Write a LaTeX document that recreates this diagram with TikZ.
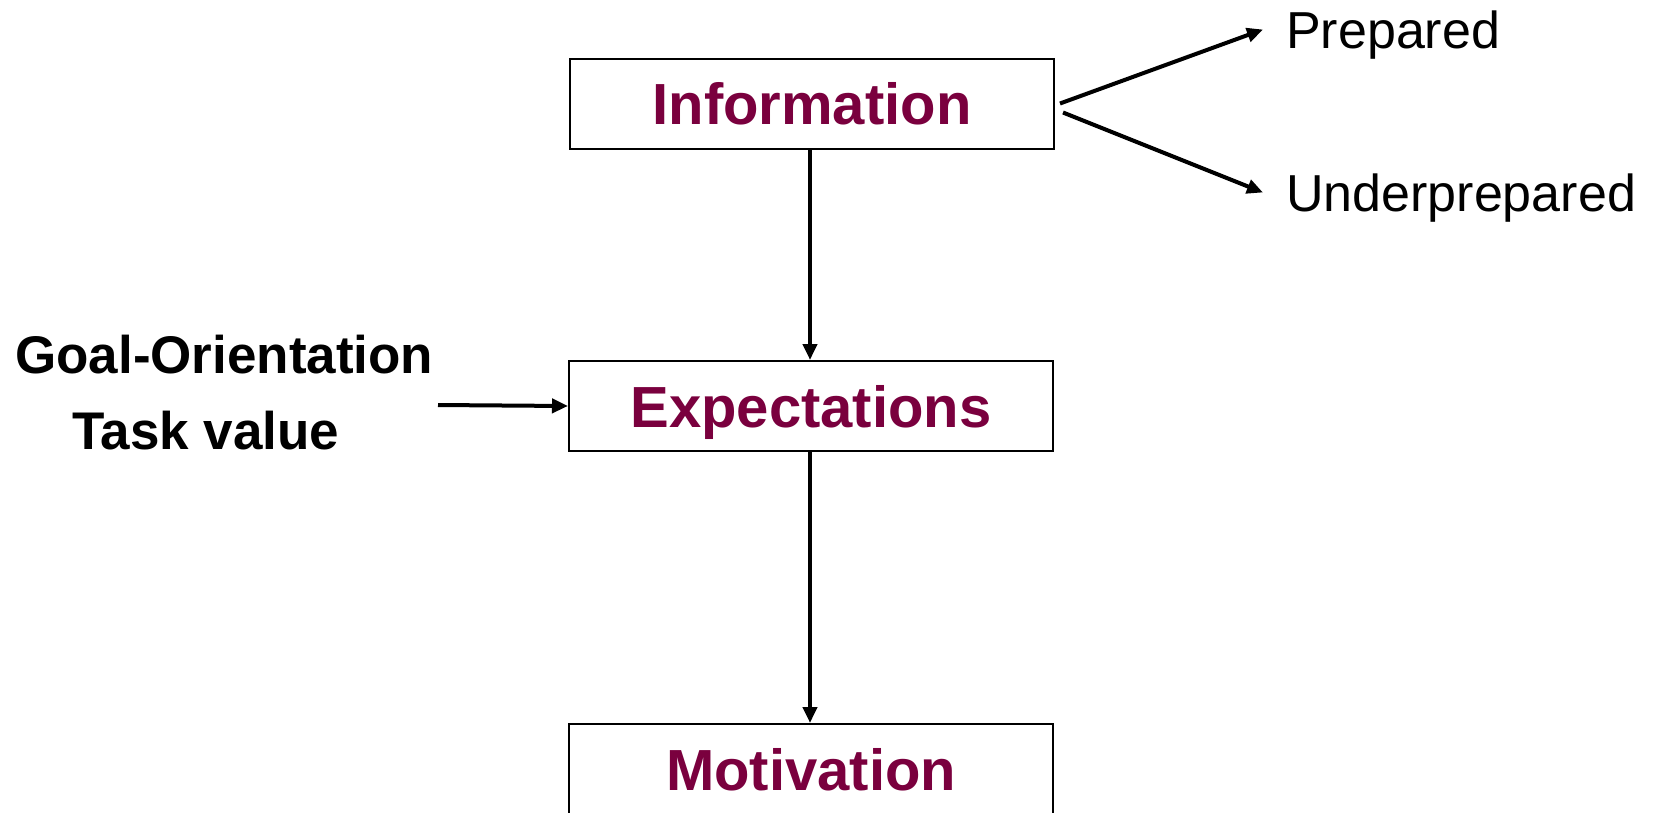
\documentclass[tikz,border=0pt]{standalone}
\usepackage{fontspec}
\setmainfont{Liberation Sans}
\usetikzlibrary{arrows.meta}
\definecolor{maroon}{RGB}{122,0,62}
\begin{document}
\begin{tikzpicture}[x=1pt,y=-1pt,
  box/.style={draw=black, line width=2pt, fill=white, minimum width=484pt, minimum height=90pt,
    inner sep=0pt, text height=42pt, text depth=0pt, text=maroon,
    font=\fontsize{58}{68}\selectfont\bfseries},
  lbl/.style={inner sep=0pt, text height=38pt, text depth=0pt, anchor=base west,
    font=\fontsize{53}{62}\selectfont\bfseries},
  outlbl/.style={inner sep=0pt, text height=37pt, text depth=0pt, anchor=base west,
    font=\fontsize{52}{62}\selectfont},
  arr/.style={line width=4pt, -{Triangle[length=16pt,width=14pt]}}]
\useasboundingbox (0,0) rectangle (1660,812);
\node[box] (info) at (812,103.5) {Information};
\node[box] (expect) at (811,406) {Expectations};
\node[box] (motiv) at (811,769) {Motivation};
\node[lbl] (goal) at (15,373) {Goal-Orientation};
\node[lbl] (task) at (72,449) {Task value};
\node[outlbl] (prep) at (1286,48) {Prepared};
\node[outlbl] (under) at (1286,211) {Underprepared};
\coordinate (src) at (438,405);
\draw[arr] (info.south -| 810,0) -- (expect.north -| 810,0);
\draw[arr] (expect.south -| 810,0) -- (motiv.north -| 810,0);
\draw[arr] (src) -- (expect.west);
\draw[arr] ([xshift=5pt]info.east) -- ([xshift=-23pt]prep.west);
\draw[arr] ([xshift=8pt,yshift=-9pt]info.east) -- ([xshift=-23pt]under.west);
\end{tikzpicture}
\end{document}
